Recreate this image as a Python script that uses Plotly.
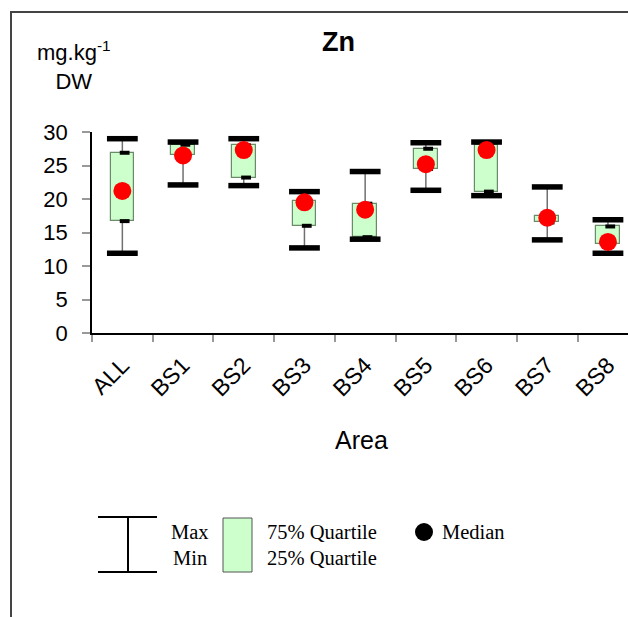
import plotly.graph_objects as go

categories = ["ALL", "BS1", "BS2", "BS3", "BS4", "BS5", "BS6", "BS7", "BS8"]
max_vals = [29.0, 28.5, 29.0, 21.1, 24.1, 28.4, 28.5, 21.8, 16.9]
q3_vals = [26.9, 28.1, 28.0, 19.7, 19.3, 27.5, 28.1, 17.5, 15.9]
median_vals = [21.2, 26.5, 27.3, 19.5, 18.4, 25.2, 27.3, 17.2, 13.6]
q1_vals = [16.7, 26.5, 23.2, 16.0, 14.3, 24.5, 21.1, 16.5, 13.3]
min_vals = [11.9, 22.1, 22.0, 12.7, 14.0, 21.3, 20.5, 13.9, 11.9]
y_ticks = [0, 5, 10, 15, 20, 25, 30]

W, H = 628, 617
ML, MR, MT, MB = 92, 0, 132, 284
PW, PH = W - ML - MR, H - MT - MB


def px(x):
    return (x - ML) / PW


def py(y):
    return (H - MB - y) / PH


idx = list(range(len(categories)))
FONT = "Arial, Liberation Sans, sans-serif"
SERIF = "Times New Roman, Liberation Serif, serif"

fig = go.Figure()

# boxes (Q1 - Q3)
fig.add_trace(go.Bar(
    x=idx, base=q1_vals, y=[a - b for a, b in zip(q3_vals, q1_vals)],
    width=0.39, marker=dict(color="#ccffcc", line=dict(color="#6a8a6a", width=1.2)),
    hoverinfo="skip", showlegend=False))

# whiskers
wx, wy = [], []
for i in idx:
    wx += [i, i, None, i, i, None]
    wy += [q3_vals[i], max_vals[i], None, q1_vals[i], min_vals[i], None]
fig.add_trace(go.Scatter(x=wx, y=wy, mode="lines", line=dict(color="#707070", width=1.5),
                         hoverinfo="skip", showlegend=False))

# small quartile markers
qx = [i + 0.038 for i in idx] * 2
qy = q3_vals + q1_vals
fig.add_trace(go.Scatter(x=qx, y=qy, mode="markers",
                         marker=dict(symbol="line-ew", size=7, line=dict(color="black", width=4)),
                         hoverinfo="skip", showlegend=False))

# max / min caps
fig.add_trace(go.Scatter(x=idx * 2, y=max_vals + min_vals, mode="markers",
                         marker=dict(symbol="line-ew", size=22, line=dict(color="black", width=5.5)),
                         hoverinfo="skip", showlegend=False))

# medians
fig.add_trace(go.Scatter(x=idx, y=median_vals, mode="markers",
                         marker=dict(symbol="circle", size=18, color="#ff0000", line=dict(width=0)),
                         hoverinfo="skip", showlegend=False))

shapes = []
# frame
shapes.append(dict(type="path", xref="paper", yref="paper",
                   path=f"M {px(11)} {py(625)} L {px(11)} {py(12)} L {px(640)} {py(12)}",
                   line=dict(color="#444444", width=2)))
# legend: whisker symbol
for (x0, y0, x1, y1) in [(98, 517, 157, 517), (98, 572, 157, 572), (128, 517, 128, 572)]:
    shapes.append(dict(type="line", xref="paper", yref="paper",
                       x0=px(x0), y0=py(y0), x1=px(x1), y1=py(y1),
                       line=dict(color="black", width=2)))
# legend: quartile box
shapes.append(dict(type="rect", xref="paper", yref="paper",
                   x0=px(223), y0=py(518), x1=px(252), y1=py(572),
                   fillcolor="#ccffcc", line=dict(color="#555555", width=1)))
# legend: median dot
shapes.append(dict(type="circle", xref="paper", yref="paper",
                   x0=px(415), y0=py(523), x1=px(433), y1=py(541),
                   fillcolor="black", line=dict(color="black", width=0)))

annotations = [
    dict(text="<b>Zn</b>", x=px(338), y=py(42), font=dict(family=FONT, size=27, color="black")),
    dict(text="mg.kg<sup>-1</sup><br>DW", x=px(74), y=py(65), font=dict(family=FONT, size=22, color="black")),
    dict(text="Area", x=px(361), y=py(440), font=dict(family=FONT, size=25, color="black")),
    dict(text="Max", x=px(190), y=py(532), font=dict(family=SERIF, size=20.5, color="black")),
    dict(text="Min", x=px(190), y=py(558), font=dict(family=SERIF, size=20.5, color="black")),
    dict(text="75% Quartile", x=px(265), y=py(532), xanchor="left", font=dict(family=SERIF, size=20.5, color="black")),
    dict(text="25% Quartile", x=px(265), y=py(558), xanchor="left", font=dict(family=SERIF, size=20.5, color="black")),
    dict(text="Median", x=px(440), y=py(532), xanchor="left", font=dict(family=SERIF, size=20.5, color="black")),
]
for a in annotations:
    a.update(xref="paper", yref="paper", showarrow=False)
    a.setdefault("xanchor", "center")
    a.setdefault("yanchor", "middle")

fig.update_layout(
    width=W, height=H, margin=dict(l=ML, r=MR, t=MT, b=MB, pad=0),
    paper_bgcolor="white", plot_bgcolor="white",
    showlegend=False, shapes=shapes, annotations=annotations,
    bargap=0,
    xaxis=dict(range=[-0.5, -0.5 + PW / 60.7], tickmode="array", tickvals=idx, ticktext=categories,
               ticks="", tickangle=-45, showgrid=False, zeroline=False,
               showline=True, linecolor="black", linewidth=1.5,
               tickfont=dict(family=FONT, size=23, color="black"), ticklabelstandoff=8,
               minor=dict(tickmode="array", tickvals=[i - 0.5 for i in idx] + [len(idx) - 0.5],
                          ticks="outside", ticklen=7, tickcolor="#999999", tickwidth=1.5, showgrid=False)),
    yaxis=dict(range=[0, 30], tickmode="array", tickvals=y_ticks, ticks="outside", ticklen=8,
               tickcolor="#999999", tickwidth=1.5, showgrid=False, zeroline=False,
               showline=True, linecolor="black", linewidth=1.5,
               tickfont=dict(family=FONT, size=22, color="black"), ticklabelstandoff=10),
)

fig.write_html("out.html", config={"displayModeBar": False})
